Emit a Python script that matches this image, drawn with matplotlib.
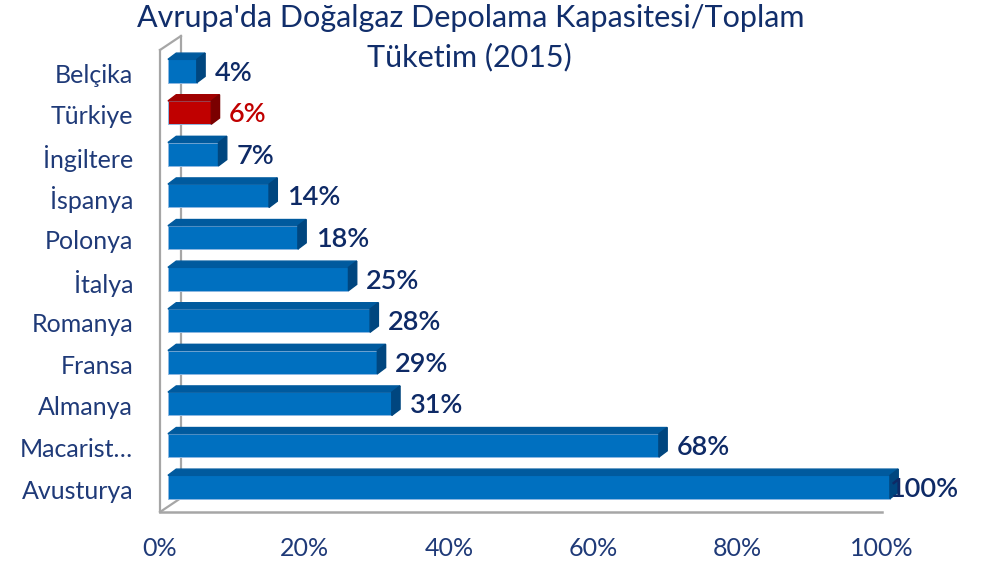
import matplotlib.pyplot as plt
from matplotlib.patches import Polygon

# data (bottom to top, as drawn)
categories = ["Avusturya", "Macarist…", "Almanya", "Fransa", "Romanya", "İtalya",
              "Polonya", "İspanya", "İngiltere", "Türkiye", "Belçika"]
values = [100, 68, 31, 29, 28, 25, 18, 14, 7, 6, 4]
highlight = "Türkiye"
xticks = [0, 20, 40, 60, 80, 100]

plt.rcParams['font.family'] = ['Lato', 'DejaVu Sans']

BLUE, BLUE_TOP, BLUE_SIDE = "#0070C0", "#005A9E", "#00467F"
RED, RED_TOP, RED_SIDE = "#C00000", "#A00000", "#7A0000"
NAVY = "#1F3A78"
TITLE = "#112E6B"
LABEL = "#0E2A66"
WALL = "#A6A6A6"

fig = plt.figure(figsize=(9.87, 5.62), dpi=100)
ax = fig.add_axes([160 / 987, 50 / 562, 722 / 987, 476 / 562])
ax.set_xlim(0, 100)
px_y = 41.6  # pixels per category
ax.set_ylim(-25 / px_y, 451 / px_y)

x0 = 1.1      # bar front offset from floor edge (in %)
ddx = 1.15    # 3d depth, x
ddy = 0.15    # 3d depth, y
h = 0.56

ypos = list(range(len(categories)))
front = [RED if c == highlight else BLUE for c in categories]
bars = ax.barh(ypos, values, height=h, left=x0, color=front,
               edgecolor="#8DB8E2", linewidth=0.7, zorder=3, clip_on=False)

for bar, c, v in zip(bars, categories, values):
    top_c = RED_TOP if c == highlight else BLUE_TOP
    side_c = RED_SIDE if c == highlight else BLUE_SIDE
    bx, by = bar.get_x(), bar.get_y()
    bw, bh = bar.get_width(), bar.get_height()
    ax.add_patch(Polygon([(bx, by + bh), (bx + bw, by + bh),
                          (bx + bw + ddx, by + bh + ddy), (bx + ddx, by + bh + ddy)],
                         closed=True, color=top_c, zorder=3, clip_on=False))
    ax.add_patch(Polygon([(bx + bw, by), (bx + bw + ddx, by + ddy),
                          (bx + bw + ddx, by + bh + ddy), (bx + bw, by + bh)],
                         closed=True, color=side_c, zorder=3, clip_on=False))
    ax.text(min(bx + bw + ddx + 1.3, 101.0), by + bh / 2 - 0.05, f"{v}%",
            ha="left", va="center", fontsize=19.5, fontweight="semibold",
            color=RED if c == highlight else LABEL, zorder=4)
    ax.text(-0.037, by + bh / 2 - 0.1, c, transform=ax.get_yaxis_transform(),
            ha="right", va="center", fontsize=18, color=NAVY)

# side wall and floor edge
ylo, yhi = ax.get_ylim()
wall_x = 2.9
ax.plot([0, 0], [ylo, yhi - 14 / px_y], color=WALL, lw=1.6, clip_on=False, zorder=2)
ax.plot([wall_x, wall_x], [ylo + 14 / px_y, yhi], color=WALL, lw=1.6, clip_on=False, zorder=1)
ax.plot([0, wall_x], [yhi - 14 / px_y, yhi], color=WALL, lw=1.6, clip_on=False, zorder=2)
ax.plot([0, wall_x], [ylo, ylo + 14 / px_y], color=WALL, lw=1.6, clip_on=False, zorder=2)
ax.plot([0, 100], [ylo, ylo], color=WALL, lw=1.8, clip_on=False, zorder=2)

for s in ax.spines.values():
    s.set_visible(False)
ax.set_yticks([])
ax.set_xticks(xticks)
ax.set_xticklabels([f"{t}%" for t in xticks])
ax.tick_params(axis="x", length=0, pad=18, labelsize=18, labelcolor=NAVY)

fig.text(471 / 987, 1 - 18 / 562, "Avrupa'da Doğalgaz Depolama Kapasitesi/Toplam",
         ha="center", va="center", fontsize=22, color=TITLE)
fig.text(469 / 987, 1 - 57 / 562, "Tüketim (2015)",
         ha="center", va="center", fontsize=22, color=TITLE)

fig.savefig("out.png", dpi=100)
